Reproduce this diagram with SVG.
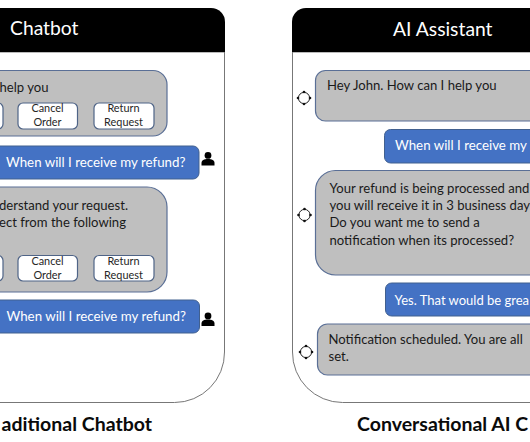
<svg xmlns="http://www.w3.org/2000/svg" width="530" height="442" viewBox="0 0 530 442">
<style>
text{font-family:Lato,"Liberation Sans",sans-serif}
.panel{fill:#fff;stroke:#777;stroke-width:1}
.head{fill:#000}
.title{fill:#fff;font-size:19.300px}
.bot{fill:#bfbfbf;stroke:#5a6f96;stroke-width:1.2}
.user{fill:#4472c4;stroke:#41608f;stroke-width:1}
.btn{fill:#fff;stroke:#4f6487;stroke-width:1.2}
.t{fill:#1a1a1a;font-size:13.100px}
.u{fill:#fff;font-size:13.300px}
.b{fill:#262626;font-size:10.900px;text-anchor:middle}
.cap{fill:#0a0a0a;font-size:19.500px;font-weight:700}
.ring{fill:none;stroke:#222;stroke-width:1}
</style>
<defs>
<g id="person"><circle cx="7" cy="3.400" r="3.400" fill="#000"/><path d="M0.500 13.500v-2.500c0-2.600 2.600-4 6.500-4s6.500 1.400 6.500 4v2.500z" fill="#000"/></g>
<g id="bot-icon"><circle r="5.600" class="ring"/><circle cy="-6" r="1.300" fill="#111"/><circle cy="6" r="1.300" fill="#111"/><circle cx="-6" r="1.300" fill="#111"/><circle cx="6" r="1.300" fill="#111"/></g>
</defs>
<g id="chatbot-panel">
<path class="panel" d="M-20 52H224.500V352a50 50 0 0 1-50 50.500H-20z"/>
<path class="head" d="M-20 8H211a14 14 0 0 1 14 14V52H-20z"/>
<text class="title" x="10" y="35">Chatbot</text>
</g>
<g id="chatbot-msg-1">
<rect class="bot" x="-30" y="70.500" width="197" height="65.500" rx="14"/>
<text class="t" x="48.500" y="91.500" text-anchor="end">help you</text>
<rect class="btn" x="-30" y="103" width="33" height="26" rx="5"/>
<rect class="btn" x="18" y="103" width="59.500" height="26" rx="5"/>
<text class="b" x="47.500" y="112">Cancel</text><text class="b" x="47.500" y="126">Order</text>
<rect class="btn" x="94" y="103" width="60" height="26" rx="5"/>
<text class="b" x="123.500" y="112">Return</text><text class="b" x="123.500" y="126">Request</text>
</g>
<g id="chatbot-user-1">
<rect class="user" x="-20" y="146" width="219" height="33" rx="6"/>
<text class="u" x="6" y="167">When will I receive my refund?</text>
<use href="#person" x="201" y="152"/>
</g>
<g id="chatbot-msg-2">
<rect class="bot" x="-30" y="187" width="197" height="105" rx="20"/>
<text class="t" x="128" y="209.500" text-anchor="end">derstand your request.</text>
<text class="t" x="126" y="226.500" text-anchor="end">ect from the following</text>
<rect class="btn" x="-30" y="255.500" width="33" height="25.500" rx="5"/>
<rect class="btn" x="18" y="255.500" width="59.500" height="25.500" rx="5"/>
<text class="b" x="47.500" y="265">Cancel</text><text class="b" x="47.500" y="279">Order</text>
<rect class="btn" x="94" y="255.500" width="60" height="25.500" rx="5"/>
<text class="b" x="123.500" y="265">Return</text><text class="b" x="123.500" y="279">Request</text>
</g>
<g id="chatbot-user-2">
<rect class="user" x="-20" y="300" width="219.500" height="33" rx="6"/>
<text class="u" x="6.500" y="320.500">When will I receive my refund?</text>
<use href="#person" x="201" y="312.500"/>
</g>
<text class="cap" x="152" y="431" text-anchor="end">aditional Chatbot</text>

<g id="assistant-panel">
<path class="panel" d="M550 52H292.500V352a50 50 0 0 0 50 50.500H550z"/>
<path class="head" d="M550 8H306a14 14 0 0 0-14 14V52H550z"/>
<text class="title" x="393" y="36">AI Assistant</text>
</g>
<g id="assistant-msg-1">
<use href="#bot-icon" x="304" y="98"/>
<rect class="bot" x="315.500" y="70.500" width="240" height="50.500" rx="10"/>
<text class="t" x="327" y="90">Hey John. How can I help you</text>
</g>
<g id="assistant-user-1">
<rect class="user" x="384.500" y="129.500" width="170" height="33.500" rx="6"/>
<text class="u" x="395" y="150">When will I receive my</text>
</g>
<g id="assistant-msg-2">
<use href="#bot-icon" x="304.500" y="215"/>
<rect class="bot" x="315.500" y="170.500" width="240" height="104.500" rx="20"/>
<text class="t" x="329.500" y="192.500">Your refund is being processed and</text>
<text class="t" x="329.500" y="210">you will receive it in 3 business day</text>
<text class="t" x="329.500" y="227">Do you want me to send a</text>
<text class="t" x="329.500" y="244.500">notification when its processed?</text>
</g>
<g id="assistant-user-2">
<rect class="user" x="385.500" y="283" width="170" height="33" rx="6"/>
<text class="u" x="394.500" y="304.500" style="font-size:13px">Yes. That would be grea</text>
</g>
<g id="assistant-msg-3">
<use href="#bot-icon" x="306" y="352"/>
<rect class="bot" x="317.500" y="324" width="240" height="51" rx="10"/>
<text class="t" x="328.500" y="343.500">Notification scheduled. You are all</text>
<text class="t" x="328.500" y="361">set.</text>
</g>
<text class="cap" x="357" y="431">Conversational AI C</text>
<g id="connectors"/>
</svg>
